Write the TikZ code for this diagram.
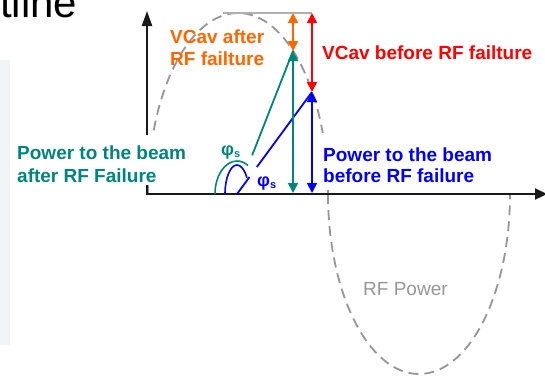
\documentclass[tikz,border=0pt]{standalone}
\usepackage{fontspec}
\setmainfont{Liberation Sans}
\usetikzlibrary{arrows.meta,calc}
\definecolor{cteal}{RGB}{0,133,125}
\definecolor{corange}{RGB}{255,102,0}
\definecolor{cred}{RGB}{255,0,0}
\definecolor{cblue}{RGB}{0,0,255}
\definecolor{cwave}{RGB}{150,150,150}
\definecolor{ctop}{RGB}{175,175,175}
\definecolor{caxis}{RGB}{25,25,25}
\definecolor{cpanel}{RGB}{242,244,247}
\begin{document}
\begin{tikzpicture}[x=1pt,y=-1pt,
  lbl/.style={font=\fontsize{19}{22}\selectfont\bfseries, inner sep=0pt, anchor=base west, align=left},
  axisline/.style={draw=caxis, line width=2.2pt, line join=miter,
     {Triangle[length=15pt,width=10pt]}-{Triangle[length=12pt,width=11pt]}},
  vec/.style={line width=1.8pt},
  darr/.style={line width=1.8pt, {Triangle[length=10pt,width=10pt]}-{Triangle[length=10pt,width=10pt]}},
  wave/.style={draw=cwave, line width=1.8pt, dash pattern=on 10pt off 6pt},
]
\useasboundingbox (0,0) rectangle (545,376);
% light panel at the left edge
\fill[cpanel] (0,60) rectangle (10,345);
% title fragment
\node[font=\fontsize{42}{42}\selectfont, inner sep=0pt, anchor=base west] (frag) at (0,17) {tline};

% named points
\coordinate (O) at (147,194);
\coordinate (V) at (237,194);
\coordinate (T) at (293,51);
\coordinate (B) at (312,92);
\coordinate (Q) at (293,13);
\coordinate (P) at (312,13);
\coordinate (L) at (223,13);
\coordinate (Tb) at (293,193);
\coordinate (Bb) at (312,193);
\coordinate (Ytop) at (147,11);
\coordinate (Xend) at (547,194);

% RF wave
\draw[wave] (148,194) arc[start angle=180,end angle=0,x radius=90pt,y radius=181pt];
\draw[wave] (328,194) arc[start angle=180,end angle=360,x radius=91pt,y radius=180pt];
\draw[ctop, line width=1.6pt] (L) -- (P);

% text box of the blue label hides the wave
\fill[white] (318,133) rectangle (505,190);

% axes
\draw[axisline] (Ytop) -- (O) -- (Xend);

% text box of the teal label hides axis and wave
\fill[white] (12,135) rectangle (192,185);

% phase lines
\draw[vec, cteal] ($(V)!0.27!(T)$) -- (T);
\draw[vec, cblue] (V) -- ($(V)!0.167!(B)$);
\draw[vec, cblue] ($(V)!0.265!(B)$) -- (B);
\draw[line width=1.6pt, cteal] (215,194) arc[start angle=180,end angle=60,x radius=22pt,y radius=33pt];
\draw[line width=1.6pt, cblue] (225,194) arc[start angle=180,end angle=34,x radius=12pt,y radius=29pt];

% vertical arrows
\draw[darr, corange] (Q) -- (T);
\draw[darr, cred] (P) -- (B);
\draw[darr, cteal] (T) -- (Tb);
\draw[darr, cblue] (B) -- (Bb);

% labels (base anchor = baseline of the last line)
\node[lbl, text=corange] (la) at (170,65) {VCav after\\RF failture};
\node[lbl, text=cred] (lb) at (322,59) {VCav before RF failture};
\node[lbl, text=cblue, font=\fontsize{19}{20.5}\selectfont\bfseries] (lc) at (323,182) {Power to the beam\\before RF failure};
\node[lbl, text=cteal, font=\fontsize{19}{23}\selectfont\bfseries] (ld) at (17,182) {Power to the beam\\after RF Failure};
\node[lbl, text=cwave, font=\fontsize{19}{22}\selectfont] (le) at (363,295) {RF Power};
\node[lbl, text=cteal] (pa) at (221,155) {\fontsize{18}{18}\selectfont φ\fontsize{11}{11}\selectfont\raisebox{-2pt}{s}};
\node[lbl, text=cblue] (pb) at (257,186) {\fontsize{18}{18}\selectfont φ\fontsize{11}{11}\selectfont\raisebox{-2pt}{s}};
\end{tikzpicture}
\end{document}
